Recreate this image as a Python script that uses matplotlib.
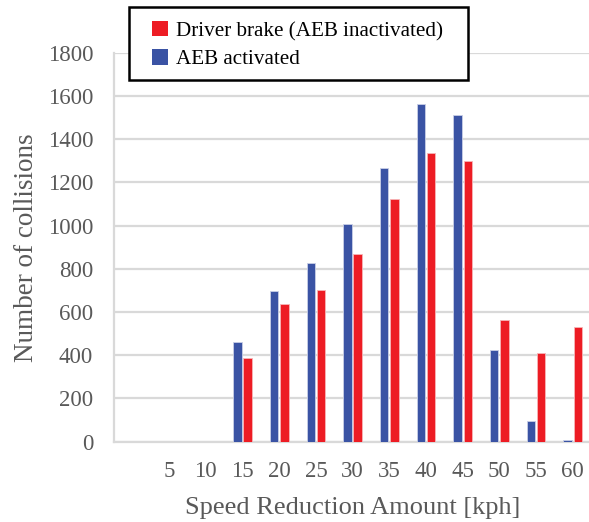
import numpy as np
import matplotlib
matplotlib.use("Agg")
import matplotlib.pyplot as plt
from matplotlib.patches import Patch, Rectangle

# Velocidad reducida (kph); la primera categoria va sin etiqueta
categorias = ["", "5", "10", "15", "20", "25", "30", "35", "40", "45", "50", "55", "60"]
aeb_activado = [0, 0, 0, 460, 698, 828, 1008, 1265, 1564, 1510, 425, 96, 8]
freno_conductor = [0, 0, 0, 389, 639, 704, 870, 1122, 1336, 1301, 561, 411, 530]

azul = "#3a53a4"
rojo = "#ed1c24"
gris = "#595959"
linea = "#d9d9d9"

plt.rcParams["font.family"] = ["Liberation Serif", "DejaVu Serif"]

fig = plt.figure(figsize=(5.89, 5.22), dpi=100)
ax = fig.add_axes([0.1936, 0.1538, 0.81, 0.7452])

x = np.arange(len(categorias))
ancho = 0.23
ax.bar(x - 0.14, aeb_activado, ancho, color=azul, edgecolor="#c9cfe6", linewidth=0.6, zorder=3)
ax.bar(x + 0.14, freno_conductor, ancho, color=rojo, edgecolor="#f7b5b7", linewidth=0.6, zorder=3)

ax.set_xlim(-0.5, len(categorias) - 0.5)
ax.set_ylim(0, 1800)
ax.set_yticks(range(0, 1801, 200))
ax.set_xticks(x)
ax.set_xticklabels(categorias)
ax.grid(axis="y", color=linea, linewidth=1.6, zorder=0)
ax.tick_params(axis="both", length=0, labelsize=16.5, colors=gris)
ax.tick_params(axis="y", pad=15)
ax.tick_params(axis="x", pad=14)
for lado in ["top", "right"]:
    ax.spines[lado].set_visible(False)
for lado in ["left", "bottom"]:
    ax.spines[lado].set_color(linea)
    ax.spines[lado].set_linewidth(1.6)

ax.set_xlabel("Speed Reduction Amount [kph]", fontsize=19, color=gris, labelpad=11)
ax.set_ylabel("Number of collisions", fontsize=19.5, color=gris, labelpad=6)

# recuadro de la leyenda, encima de la linea de 1800
caja = Rectangle((0.219, 0.8467), 0.5756, 0.1398, transform=fig.transFigure,
                 facecolor="white", edgecolor="black", linewidth=1.8, zorder=5)
fig.patches.append(caja)

handles = [Patch(facecolor=rojo, label="Driver brake (AEB inactivated)"),
           Patch(facecolor=azul, label="AEB activated")]
leg = fig.legend(handles=handles, loc="upper left", bbox_to_anchor=(0.258, 0.9598),
                 fontsize=15.2, frameon=False, handlelength=0.75,
                 handleheight=0.75, handletextpad=0.4, labelspacing=0.38,
                 borderpad=0, borderaxespad=0)
leg.set_zorder(10)

fig.savefig("out.png", dpi=100)
